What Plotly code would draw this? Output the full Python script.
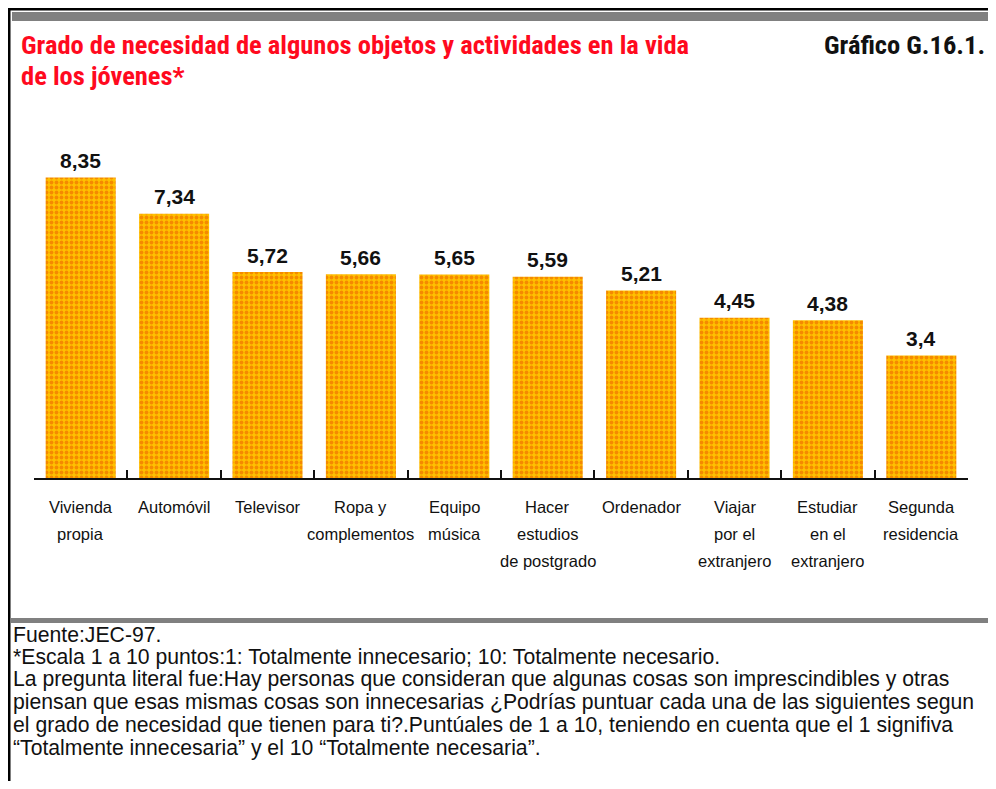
import plotly.graph_objects as go

# The page body has an 8px margin, so the figure is placed at (8, 8);
# keep the figure inside the window so no scrollbars appear.
OFF = 8
W, H = 996 - 2 * OFF, 789 - 2 * OFF

categories = [
    "Vivienda<br>propia",
    "Automóvil",
    "Televisor",
    "Ropa y<br>complementos",
    "Equipo<br>música",
    "Hacer<br>estudios<br>de postgrado",
    "Ordenador",
    "Viajar<br>por el<br>extranjero",
    "Estudiar<br>en el<br>extranjero",
    "Segunda<br>residencia",
]
values = [8.35, 7.34, 5.72, 5.66, 5.65, 5.59, 5.21, 4.45, 4.38, 3.4]

title_lines = ["Grado de necesidad de algunos objetos y actividades en la vida",
               "de los jóvenes*"]
chart_id = "Gráfico G.16.1."
footnotes = [
    "Fuente:JEC-97.",
    "*Escala 1 a 10 puntos:1: Totalmente innecesario; 10: Totalmente necesario.",
    "La pregunta literal fue:Hay personas que consideran que algunas cosas son imprescindibles y otras",
    "piensan que esas mismas cosas son innecesarias ¿Podrías puntuar cada una de las siguientes segun",
    "el grado de necesidad que tienen para ti?.Puntúales de 1 a 10, teniendo en cuenta que el 1 signifiva",
    "“Totalmente innecesaria” y el 10 “Totalmente necesaria”.",
]


def px(x):
    """page x pixel -> paper fraction"""
    return (x - OFF) / W


def py(y):
    """page y pixel -> paper fraction"""
    return 1 - (y - OFF) / H


# plot area in page pixels
X0, X1 = 34, 968
Y_AXIS, Y_TOP = 478, 140
SCALE = 36.0  # px per unit
y_max = (Y_AXIS - Y_TOP) / SCALE

NARROW = "Liberation Sans Narrow, Roboto Condensed, DejaVu Sans Condensed, Arial Narrow, sans-serif"
SANS = "Liberation Sans, Arial, Helvetica, sans-serif"

fig = go.Figure()
fig.add_trace(go.Bar(
    x=categories,
    y=values,
    marker=dict(
        color="#FFBA00",
        line=dict(width=0),
        pattern=dict(shape=".", fgcolor="#F58A00", bgcolor="#FFC000",
                     size=5, solidity=0.45, fillmode="replace"),
    ),
    hoverinfo="skip",
))

annotations = []
# value labels
for c, v in zip(categories, values):
    txt = f"{v:g}".replace(".", ",")
    annotations.append(dict(
        x=c, y=v, xref="x", yref="y", text=f"<b>{txt}</b>", showarrow=False,
        yanchor="middle", yshift=17,
        font=dict(family=SANS, size=21, color="#111111"),
    ))
# category labels (each line as its own annotation for spacing)
for c in categories:
    for i, line in enumerate(c.split("<br>")):
        annotations.append(dict(
            x=c, y=0, xref="x", yref="y", text=line, showarrow=False,
            yanchor="middle", yshift=-(29 + 27 * i),
            font=dict(family=SANS, size=16.5, color="#111111"),
        ))
# title
for i, line in enumerate(title_lines):
    annotations.append(dict(
        x=px(19), y=py(45 + 30 * i), xref="paper", yref="paper", text=f"<b>{line}</b>",
        showarrow=False, xanchor="left", yanchor="middle", align="left",
        font=dict(family=NARROW, size=26.5, color="#FF0A1E"),
    ))
annotations.append(dict(
    x=px(987), y=py(45), xref="paper", yref="paper", text=f"<b>{chart_id}</b>",
    showarrow=False, xanchor="right", yanchor="middle", align="right",
    font=dict(family=NARROW, size=26.5, color="#111111"),
))
# footnotes
for i, line in enumerate(footnotes):
    annotations.append(dict(
        x=px(11), y=py(634 + 22.7 * i), xref="paper", yref="paper", text=line,
        showarrow=False, xanchor="left", yanchor="middle", align="left",
        font=dict(family=SANS, size=21.2, color="#111111"),
    ))

shapes = [
    # outer frame (top + left)
    dict(type="rect", xref="paper", yref="paper", x0=px(8), x1=1, y0=py(8), y1=py(10.5),
         fillcolor="#000000", line=dict(width=0)),
    dict(type="rect", xref="paper", yref="paper", x0=px(8), x1=px(10.5), y0=py(8), y1=0,
         fillcolor="#000000", line=dict(width=0)),
    # grey header bar
    dict(type="rect", xref="paper", yref="paper", x0=px(12), x1=1, y0=py(12), y1=py(21),
         fillcolor="#808080", line=dict(width=0)),
    # grey separator bar
    dict(type="rect", xref="paper", yref="paper", x0=px(11), x1=1, y0=py(618), y1=py(623),
         fillcolor="#808080", line=dict(width=0)),
]

fig.update_layout(
    width=W, height=H,
    margin=dict(l=0, r=0, t=0, b=0),
    paper_bgcolor="white", plot_bgcolor="white",
    bargap=0.25,
    showlegend=False,
    annotations=annotations,
    shapes=shapes,
    xaxis=dict(
        domain=[px(X0), px(X1)],
        range=[-0.5, len(categories) - 0.5],
        showticklabels=False,
        showline=True, linecolor="#111111", linewidth=2,
        tickmode="array",
        tickvals=[i - 0.5 for i in range(len(categories) + 1)],
        ticks="inside", ticklen=8, tickwidth=2, tickcolor="#111111",
        showgrid=False, zeroline=False, fixedrange=True,
    ),
    yaxis=dict(
        domain=[py(Y_AXIS), py(Y_TOP)],
        range=[0, y_max],
        visible=False, showgrid=False, zeroline=False, fixedrange=True,
    ),
)

fig.write_html("out.html")
